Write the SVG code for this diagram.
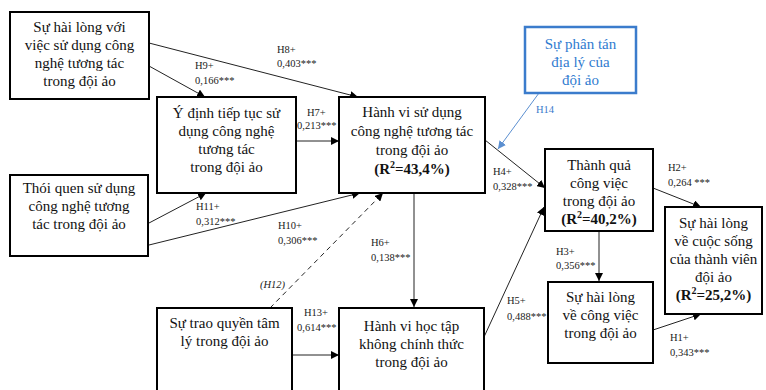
<svg xmlns="http://www.w3.org/2000/svg" width="766" height="390" viewBox="0 0 766 390">
  <defs>
    <marker id="arr" viewBox="0 0 10 10" refX="10" refY="5" markerWidth="8" markerHeight="8" markerUnits="userSpaceOnUse" orient="auto">
      <path d="M0,0 L10,5 L0,10 z" fill="#000"/>
    </marker>
    <marker id="arrBlue" viewBox="0 0 10 10" refX="10" refY="5" markerWidth="8" markerHeight="8" markerUnits="userSpaceOnUse" orient="auto">
      <path d="M0,0 L10,5 L0,10 z" fill="#5b8fd0"/>
    </marker>
  </defs>
  <style>
    .box { fill: #fff; stroke: #000; stroke-width: 2; }
    .boxBlue { fill: #fff; stroke: #3b7ccc; stroke-width: 2.5; }
    .t { font-family: "Liberation Serif", "Times New Roman", serif; font-size: 15px; fill: #111; text-anchor: middle; }
    .tb { font-weight: bold; }
    .tBlue { fill: #2f7bd0; }
    .lbl { font-family: "Liberation Serif", "Times New Roman", serif; font-size: 10.5px; fill: #222; }
    .lblBlue { fill: #3b7ccc; }
    .ital { font-style: italic; }
    .c { fill: none; stroke: #222; stroke-width: 1; marker-end: url(#arr); }
    .cBlue { fill: none; stroke: #5b8fd0; stroke-width: 1; marker-end: url(#arrBlue); }
    .dash { stroke-dasharray: 5 4; }
  </style>

  <rect width="766" height="390" fill="#fff"/>

  <!-- connectors -->
  <g id="connectors">
    <line class="c" x1="149" y1="43" x2="358" y2="97"/>
    <line class="c" x1="149" y1="66" x2="205" y2="97"/>
    <line class="c" x1="296" y1="141" x2="339" y2="141"/>
    <line class="c" x1="149" y1="223" x2="206" y2="193"/>
    <line class="c" x1="149" y1="245" x2="360" y2="193"/>
    <line class="c dash" x1="270" y1="308" x2="383" y2="193"/>
    <line class="c" x1="414" y1="193" x2="414" y2="307"/>
    <line class="c" x1="292" y1="355" x2="339" y2="355"/>
    <line class="c" x1="485" y1="140" x2="545" y2="188"/>
    <line class="cBlue" x1="539" y1="93" x2="498" y2="149"/>
    <line class="c" x1="484" y1="337" x2="544" y2="207"/>
    <line class="c" x1="599" y1="231" x2="599" y2="281"/>
    <line class="c" x1="653" y1="188" x2="701" y2="207"/>
    <line class="c" x1="653" y1="330" x2="701" y2="314"/>

    <!-- path labels -->
    <text class="lbl" x="277" y="53">H8+</text>
    <text class="lbl" x="277" y="67">0,403***</text>
    <text class="lbl" x="195" y="69">H9+</text>
    <text class="lbl" x="195" y="84">0,166***</text>
    <text class="lbl" x="307" y="116">H7+</text>
    <text class="lbl" x="297" y="129">0,213***</text>
    <text class="lbl" x="196" y="210">H11+</text>
    <text class="lbl" x="196" y="225">0,312***</text>
    <text class="lbl" x="278" y="229">H10+</text>
    <text class="lbl" x="278" y="244">0,306***</text>
    <text class="lbl" x="371" y="246">H6+</text>
    <text class="lbl" x="371" y="261">0,138***</text>
    <text class="lbl ital" x="260" y="288">(H12)</text>
    <text class="lbl" x="304" y="316">H13+</text>
    <text class="lbl" x="297" y="331">0,614***</text>
    <text class="lbl lblBlue" x="536" y="113">H14</text>
    <text class="lbl" x="493" y="175">H4+</text>
    <text class="lbl" x="493" y="190">0,328***</text>
    <text class="lbl" x="507" y="304">H5+</text>
    <text class="lbl" x="507" y="320">0,488***</text>
    <text class="lbl" x="556" y="255">H3+</text>
    <text class="lbl" x="556" y="269">0,356***</text>
    <text class="lbl" x="668" y="171">H2+</text>
    <text class="lbl" x="668" y="186">0,264 ***</text>
    <text class="lbl" x="670" y="341">H1+</text>
    <text class="lbl" x="670" y="356">0,343***</text>
  </g>

  <!-- nodes -->
  <g id="satisfaction-tech-use">
    <rect class="box" x="10" y="12" width="139" height="87"/>
    <text class="t" x="79.5" y="32">Sự hài lòng với</text>
    <text class="t" x="79.5" y="50">việc sử dụng công</text>
    <text class="t" x="79.5" y="68">nghệ tương tác</text>
    <text class="t" x="79.5" y="86">trong đội ảo</text>
  </g>

  <g id="continuance-intention">
    <rect class="box" x="157" y="97" width="139" height="96"/>
    <text class="t" x="226.5" y="118">Ý định tiếp tục sử</text>
    <text class="t" x="226.5" y="136">dụng công nghệ</text>
    <text class="t" x="226.5" y="154">tương tác</text>
    <text class="t" x="226.5" y="172">trong đội ảo</text>
  </g>

  <g id="usage-behaviour">
    <rect class="box" x="339" y="97" width="146" height="96"/>
    <text class="t" x="412" y="117">Hành vi sử dụng</text>
    <text class="t" x="412" y="136">công nghệ tương tác</text>
    <text class="t" x="412" y="155">trong đội ảo</text>
    <text class="t tb" x="412" y="174">(R<tspan font-size="10" dy="-6">2</tspan><tspan dy="6">=43,4%)</tspan></text>
  </g>

  <g id="habit">
    <rect class="box" x="10" y="175" width="138" height="81"/>
    <text class="t" x="79" y="193">Thói quen sử dụng</text>
    <text class="t" x="79" y="211">công nghệ tương</text>
    <text class="t" x="79" y="229">tác trong đội ảo</text>
  </g>

  <g id="geographic-dispersion">
    <rect class="boxBlue" x="525" y="27" width="111" height="66"/>
    <text class="t tBlue" x="580.5" y="49">Sự phân tán</text>
    <text class="t tBlue" x="580.5" y="67">địa lý của</text>
    <text class="t tBlue" x="580.5" y="85">đội ảo</text>
  </g>

  <g id="job-performance">
    <rect class="box" x="545" y="149" width="108" height="82"/>
    <text class="t" x="599" y="170">Thành quả</text>
    <text class="t" x="599" y="188">công việc</text>
    <text class="t" x="599" y="206">trong đội ảo</text>
    <text class="t tb" x="599" y="224">(R<tspan font-size="10" dy="-6">2</tspan><tspan dy="6">=40,2%)</tspan></text>
  </g>

  <g id="life-satisfaction">
    <rect class="box" x="665" y="207" width="97" height="107"/>
    <text class="t" x="713.5" y="228">Sự hài lòng</text>
    <text class="t" x="713.5" y="246">về cuộc sống</text>
    <text class="t" x="713.5" y="264">của thành viên</text>
    <text class="t" x="713.5" y="282">đội ảo</text>
    <text class="t tb" x="713.5" y="300">(R<tspan font-size="10" dy="-6">2</tspan><tspan dy="6">=25,2%)</tspan></text>
  </g>

  <g id="job-satisfaction">
    <rect class="box" x="548" y="282" width="105" height="81"/>
    <text class="t" x="600.5" y="302">Sự hài lòng</text>
    <text class="t" x="600.5" y="320">về công việc</text>
    <text class="t" x="600.5" y="338">trong đội ảo</text>
  </g>

  <g id="psychological-empowerment">
    <rect class="box" x="157" y="308" width="135" height="90"/>
    <text class="t" x="224.5" y="328">Sự trao quyền tâm</text>
    <text class="t" x="224.5" y="346">lý trong đội ảo</text>
  </g>

  <g id="informal-learning">
    <rect class="box" x="339" y="308" width="145" height="90"/>
    <text class="t" x="411.5" y="331">Hành vi học tập</text>
    <text class="t" x="411.5" y="349">không chính thức</text>
    <text class="t" x="411.5" y="367">trong đội ảo</text>
  </g>
</svg>
